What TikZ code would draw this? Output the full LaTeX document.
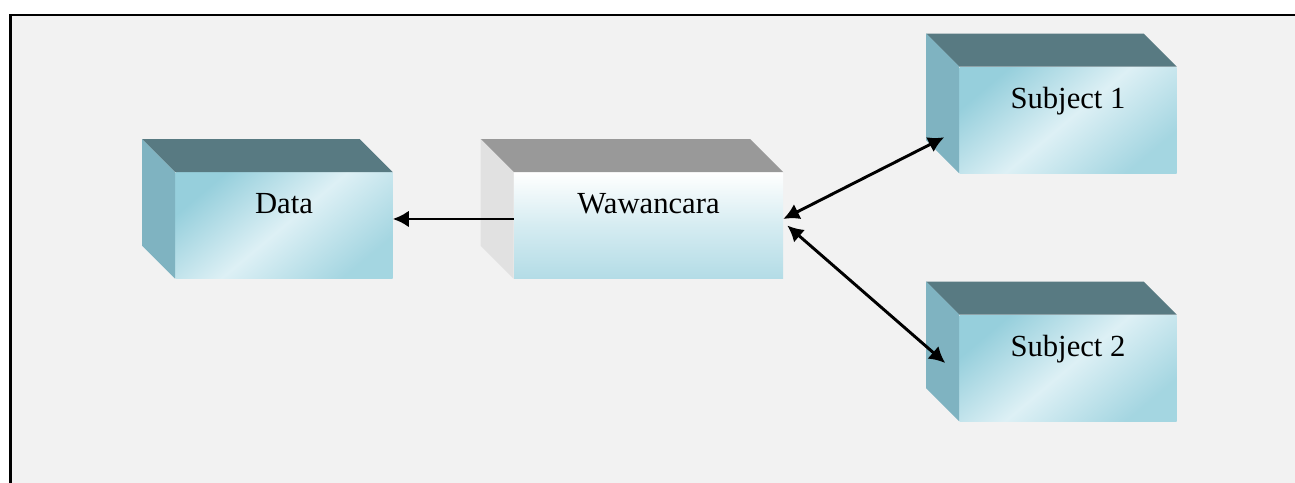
\documentclass[tikz,border=0pt]{standalone}
\usepackage{fontspec}
\setmainfont{Liberation Serif}
\usetikzlibrary{calc,arrows.meta}

\definecolor{panel}{HTML}{F2F2F2}
\definecolor{boxtop}{HTML}{587A82}
\definecolor{boxside}{HTML}{7FB3C1}
\definecolor{boxdark}{HTML}{96CFDC}
\definecolor{boxlight}{HTML}{DDF0F5}
\definecolor{greytop}{HTML}{999999}
\definecolor{greyside}{HTML}{E1E1E1}
\definecolor{greyfront}{HTML}{B3DCE6}

\begin{document}
\begin{tikzpicture}[x=0.75pt, y=-0.75pt]
\tikzstyle{every node} = [inner sep=0, text depth=33pt, font=\fontsize{23}{27}\selectfont]
\tikzstyle{bluebox} = [minimum width=162.75pt, minimum height=79.5pt, shading=axis, top color=boxdark, bottom color=boxdark!80!boxlight, middle color=boxlight, shading angle=40]
\tikzstyle{greybox} = [minimum width=201.75pt, minimum height=79.5pt, top color=white, bottom color=greyfront, middle color=white!45!greyfront]
\tikzstyle{link} = [draw, line width=2.2pt, -{Latex[length=12pt,width=12.5pt]}]
\tikzstyle{twoway} = [draw, line width=2.2pt, {Latex[length=12pt,width=12.5pt]}-{Latex[length=12pt,width=12.5pt]}]
\useasboundingbox (0,0) rectangle (1295,482);
\fill[white] (0,0) rectangle (1295,482);
\draw[line width=1.9pt, fill=panel] (10.3,15.2) rectangle (1320,500);
\node[bluebox] (data) at (284,225.5) {Data};
\node[greybox] (wawancara) at (648.5,225.5) {Wawancara};
\node[bluebox] (subj1) at (1068,120) {Subject 1};
\node[bluebox] (subj2) at (1068,368) {Subject 2};
\foreach \n/\c/\s in {data/boxtop/boxside, wawancara/greytop/greyside, subj1/boxtop/boxside, subj2/boxtop/boxside} {
  \fill[\c] (\n.north west) -- ++(-33,-33) -- ($(\n.north east)+(-33,-33)$) -- (\n.north east) -- cycle;
  \fill[\s] (\n.north west) -- ++(-33,-33) -- ($(\n.south west)+(-33,-33)$) -- (\n.south west) -- cycle;
}
\draw[link] ([yshift=4.9pt]wawancara.west) -- ([yshift=4.9pt]data.east);
\draw[twoway] ([yshift=4.9pt]wawancara.east) -- ([shift={(-15,-36)}]subj1.south west);
\draw[twoway] ([shift={(4,0)}]wawancara.east) -- ([shift={(-14,-5)}]subj2.west);
\end{tikzpicture}
\end{document}
